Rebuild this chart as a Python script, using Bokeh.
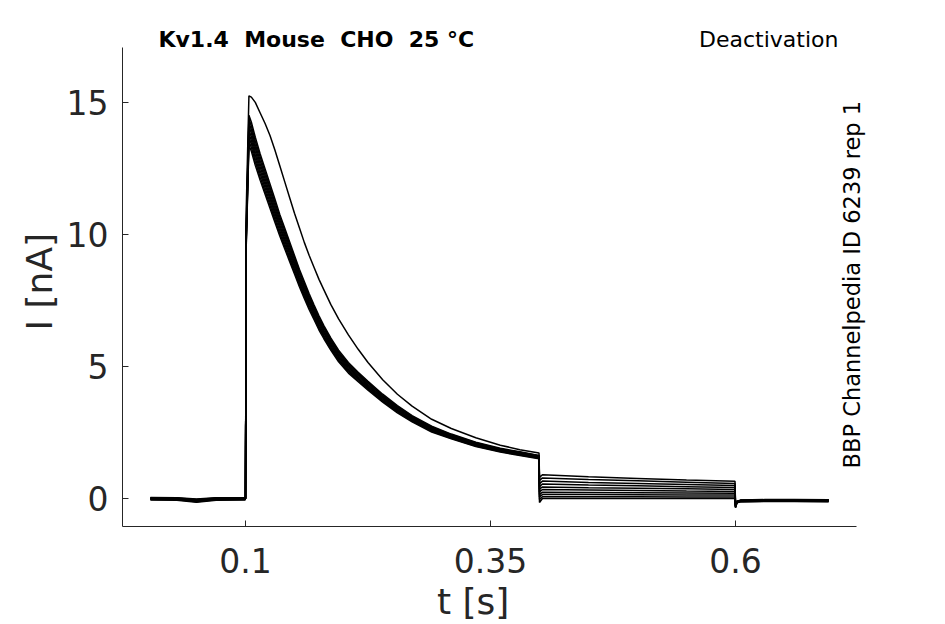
from bokeh.plotting import figure
from bokeh.models import Range1d, FixedTicker, Label
from bokeh.embed import file_html
from bokeh.resources import INLINE
import math

# ---------------- data ----------------
x_ticks = [0.1, 0.35, 0.6]
x_tick_labels = ["0.1", "0.35", "0.6"]
y_ticks = [0, 5, 10, 15]
y_tick_labels = ["0", "5", "10", "15"]

NB = "\u00a0"
title_text = "Kv1.4" + NB + NB + "Mouse" + NB + NB + "CHO" + NB + NB + "25" + NB + "°C"
protocol_text = "Deactivation"
side_text = "BBP Channelpedia ID 6239 rep 1"
x_label = "t [s]"
y_label = "I [nA]"

# baseline before the activating step (s, nA)
t_pre = [0.003, 0.03, 0.05, 0.07, 0.0995]
I_pre = [
    [0.04, 0.03, -0.02, 0.03, 0.04],
    [0.03, 0.02, -0.04, 0.02, 0.03],
    [0.02, 0.01, -0.05, 0.01, 0.02],
    [0.01, 0.0, -0.06, 0.0, 0.01],
    [0.0, -0.01, -0.07, -0.01, 0.0],
    [-0.01, -0.02, -0.09, -0.03, -0.01],
    [-0.02, -0.03, -0.1, -0.03, -0.02],
    [-0.03, -0.04, -0.11, -0.04, -0.03],
    [-0.04, -0.05, -0.12, -0.05, -0.04],
    [-0.06, -0.07, -0.14, -0.07, -0.06],
]

# activating step: peak and inactivation (s, nA)
t_act = [0.1, 0.1008, 0.1035, 0.106, 0.11, 0.115, 0.12, 0.125, 0.13, 0.135,
         0.14, 0.145, 0.15, 0.155, 0.16, 0.165, 0.17, 0.175, 0.18, 0.187,
         0.195, 0.205, 0.215, 0.225, 0.24, 0.255, 0.27, 0.29, 0.31, 0.335,
         0.36, 0.38, 0.3995]
I_act = [
    [0, 11.0, 15.25, 15.2, 15.0, 14.6, 14.2, 13.75, 13.2, 12.6, 12.0, 11.4, 10.8, 10.25, 9.7, 9.2, 8.75,
     8.3, 7.9, 7.35, 6.8, 6.2, 5.65, 5.15, 4.5, 3.95, 3.5, 3.0, 2.65, 2.3, 2.02, 1.85, 1.72],
    [0, 10.4, 14.51, 14.25, 13.68, 13.05, 12.48, 11.91, 11.34, 10.76, 10.24, 9.72, 9.2, 8.68, 8.22, 7.75, 7.33,
     6.92, 6.55, 6.08, 5.62, 5.15, 4.78, 4.44, 3.95, 3.52, 3.14, 2.74, 2.44, 2.13, 1.9, 1.77, 1.63],
    [0, 10.3, 14.37, 14.11, 13.54, 12.93, 12.36, 11.79, 11.23, 10.66, 10.15, 9.63, 9.12, 8.6, 8.14, 7.67, 7.26,
     6.85, 6.49, 6.03, 5.56, 5.1, 4.74, 4.4, 3.91, 3.48, 3.11, 2.71, 2.42, 2.11, 1.88, 1.75, 1.62],
    [0, 10.2, 14.23, 13.97, 13.41, 12.8, 12.24, 11.68, 11.12, 10.56, 10.05, 9.54, 9.03, 8.52, 8.06, 7.6, 7.19,
     6.78, 6.43, 5.97, 5.51, 5.05, 4.69, 4.36, 3.88, 3.45, 3.08, 2.68, 2.4, 2.09, 1.87, 1.73, 1.6],
    [0, 10.1, 14.09, 13.84, 13.28, 12.68, 12.12, 11.56, 11.01, 10.45, 9.95, 9.44, 8.94, 8.43, 7.98, 7.52, 7.12,
     6.72, 6.36, 5.91, 5.45, 5.0, 4.65, 4.31, 3.84, 3.41, 3.05, 2.66, 2.37, 2.07, 1.85, 1.72, 1.59],
    [0, 10.0, 13.95, 13.7, 13.15, 12.55, 12.0, 11.45, 10.9, 10.35, 9.85, 9.35, 8.85, 8.35, 7.9, 7.45, 7.05,
     6.65, 6.3, 5.85, 5.4, 4.95, 4.6, 4.27, 3.8, 3.38, 3.02, 2.63, 2.35, 2.05, 1.83, 1.7, 1.57],
    [0, 9.9, 13.81, 13.56, 13.02, 12.42, 11.88, 11.34, 10.79, 10.25, 9.75, 9.26, 8.76, 8.27, 7.82, 7.38, 6.98,
     6.58, 6.24, 5.79, 5.35, 4.9, 4.55, 4.23, 3.76, 3.35, 2.99, 2.6, 2.33, 2.03, 1.81, 1.68, 1.55],
    [0, 9.8, 13.67, 13.43, 12.89, 12.3, 11.76, 11.22, 10.68, 10.14, 9.65, 9.16, 8.67, 8.18, 7.74, 7.3, 6.91,
     6.52, 6.17, 5.73, 5.29, 4.85, 4.51, 4.18, 3.72, 3.31, 2.96, 2.58, 2.3, 2.01, 1.79, 1.67, 1.54],
    [0, 9.7, 13.53, 13.29, 12.76, 12.17, 11.64, 11.11, 10.57, 10.04, 9.55, 9.07, 8.58, 8.1, 7.66, 7.23, 6.84,
     6.45, 6.11, 5.67, 5.24, 4.8, 4.46, 4.14, 3.69, 3.28, 2.93, 2.55, 2.28, 1.99, 1.78, 1.65, 1.52],
    [0, 9.6, 13.39, 13.15, 12.62, 12.05, 11.52, 10.99, 10.46, 9.94, 9.46, 8.98, 8.5, 8.02, 7.58, 7.15, 6.77,
     6.38, 6.05, 5.62, 5.18, 4.75, 4.42, 4.1, 3.65, 3.24, 2.9, 2.52, 2.26, 1.97, 1.76, 1.63, 1.51],
]

# deactivation (tail) step (s, nA)
t_tail = [0.4, 0.403, 0.45, 0.5, 0.55, 0.5995]
I_tail = [
    [0.8, 0.9, 0.82, 0.76, 0.7, 0.65],
    [0.68, 0.78, 0.72, 0.67, 0.62, 0.57],
    [0.56, 0.66, 0.61, 0.57, 0.53, 0.49],
    [0.45, 0.55, 0.51, 0.48, 0.45, 0.42],
    [0.35, 0.44, 0.41, 0.39, 0.37, 0.34],
    [0.25, 0.34, 0.32, 0.3, 0.28, 0.27],
    [0.15, 0.24, 0.23, 0.22, 0.21, 0.2],
    [0.06, 0.15, 0.15, 0.14, 0.13, 0.13],
    [-0.04, 0.07, 0.07, 0.07, 0.06, 0.06],
    [-0.15, 0.0, 0.0, 0.0, 0.0, 0.0],
]

# return to holding (s, nA)
t_post = [0.6, 0.6015, 0.605, 0.63, 0.66, 0.695]
I_post = [
    [-0.22, -0.1, -0.06, -0.04, -0.04, -0.05],
    [-0.24, -0.1, -0.07, -0.05, -0.05, -0.05],
    [-0.26, -0.11, -0.07, -0.06, -0.06, -0.06],
    [-0.27, -0.12, -0.08, -0.07, -0.06, -0.07],
    [-0.29, -0.13, -0.09, -0.07, -0.07, -0.07],
    [-0.3, -0.13, -0.09, -0.08, -0.08, -0.08],
    [-0.31, -0.14, -0.1, -0.09, -0.09, -0.09],
    [-0.32, -0.14, -0.11, -0.1, -0.1, -0.1],
    [-0.34, -0.15, -0.12, -0.1, -0.1, -0.11],
    [-0.35, -0.16, -0.12, -0.11, -0.11, -0.12],
]

# ---------------- figure ----------------
FONT = "DejaVu Sans"
DARK = "#262626"

p = figure(width=935, height=624, output_backend="svg", toolbar_location=None,
           x_range=Range1d(-0.0255, 0.7602), y_range=Range1d(-1.06, 18.595),
           min_border_left=122, min_border_right=43, min_border_top=7,
           min_border_bottom=98)
p.outline_line_color = None
p.xgrid.visible = False
p.ygrid.visible = False
p.background_fill_color = "white"
p.border_fill_color = "white"

for k in range(len(I_act)):
    ts = t_pre + t_act + t_tail + t_post
    ys = I_pre[k] + I_act[k] + I_tail[k] + I_post[k]
    p.line(ts, ys, line_color="black", line_width=1.5)

for ax in (p.xaxis[0], p.yaxis[0]):
    ax.axis_line_color = DARK
    ax.axis_line_width = 1
    ax.major_tick_line_color = DARK
    ax.major_tick_in = 6
    ax.major_tick_out = 0
    ax.minor_tick_line_color = None
    ax.major_label_text_font = FONT
    ax.major_label_text_font_size = "33px"
    ax.major_label_text_color = DARK
    ax.axis_label_text_font = FONT
    ax.axis_label_text_font_size = "36px"
    ax.axis_label_text_font_style = "normal"
    ax.axis_label_text_color = DARK

p.xaxis.bounds = (-0.0255, 0.7235)
p.yaxis.bounds = (-1.06, 17.08)
p.xaxis.ticker = FixedTicker(ticks=x_ticks)
p.xaxis.major_label_overrides = {t: s for t, s in zip(x_ticks, x_tick_labels)}
p.yaxis.ticker = FixedTicker(ticks=y_ticks)
p.yaxis.major_label_overrides = {t: s for t, s in zip(y_ticks, y_tick_labels)}
# padding spaces centre the labels on the drawn axis lines rather than the frame
p.xaxis.axis_label = x_label + NB * 6
p.yaxis.axis_label = y_label + "\u2002" + NB
p.xaxis.major_label_standoff = 21
p.yaxis.major_label_standoff = 14
p.xaxis.axis_label_standoff = 5
p.yaxis.axis_label_standoff = 4

p.add_layout(Label(x=0.0112, y=17.39, text=title_text, text_font=FONT,
                   text_font_size="22px", text_font_style="bold",
                   text_color="black", text_baseline="middle",
                   text_align="left"))
p.add_layout(Label(x=0.705, y=17.39, text=protocol_text, text_font=FONT,
                   text_font_size="22px", text_color="black",
                   text_baseline="middle", text_align="right"))
p.add_layout(Label(x=0.7193, y=1.14, text=side_text, text_font=FONT,
                   text_font_size="22.5px", text_color="black", angle=math.pi / 2,
                   text_baseline="middle", text_align="left"))

open("out.html", "w").write(file_html(p, INLINE))
